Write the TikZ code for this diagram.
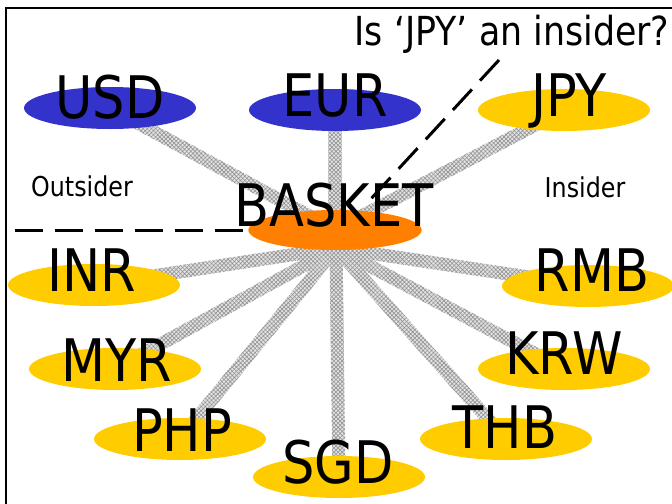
\documentclass[tikz,border=0pt]{standalone}
\usepackage{fontspec}
\setmainfont{DejaVu Sans}[FakeStretch=0.87]
\usetikzlibrary{shapes.geometric,calc,patterns.meta}
\pgfdeclarelayer{background}
\pgfsetlayers{background,main}
\definecolor{cblue}{RGB}{51,51,204}
\definecolor{cyel}{RGB}{255,204,0}
\definecolor{corange}{RGB}{255,128,0}
\tikzset{
  ell/.style={ellipse, inner sep=0pt, minimum width=129pt, minimum height=31.5pt, draw=none},
  blueell/.style={ell, fill=cblue},
  yelell/.style={ell, fill=cyel},
  orell/.style={ell, fill=corange, minimum width=130pt, minimum height=30pt},
  lbl/.style={anchor=base, inner sep=0pt, font=\fontsize{44}{48}\selectfont},
  smalltxt/.style={anchor=base, inner sep=0pt, font=\fontsize{20.5}{24}\selectfont},
  titletxt/.style={anchor=base, inner sep=0pt, font=\fontsize{30}{34}\selectfont},
  dashline/.style={line width=2.25pt, dash pattern=on 21pt off 9pt},
  stripefill/.style={pattern={Hatch[angle=45,distance=2.2pt,line width=0.45pt]}, pattern color=gray!85, preaction={fill=gray!22}},
  framestyle/.style={line width=1.6pt},
}
\newcommand\stripe[2]{\path[stripefill] ($(#1)!4.9pt!90:(#2)$) -- ($(#2)!4.9pt!-90:(#1)$) -- ($(#2)!4.9pt!90:(#1)$) -- ($(#1)!4.9pt!-90:(#2)$) -- cycle;}
\begin{document}
\begin{tikzpicture}[x=0.75pt,y=-0.75pt]
\useasboundingbox (0,0) rectangle (672,504);
% frame
\coordinate (fa) at (6,506);
\coordinate (fb) at (6,8);
\coordinate (fc) at (674,8);
\draw[framestyle] (fa) -- (fb) -- (fc);
% ellipses
\node[blueell] (usd) at (110,108) {};
\node[blueell] (eur) at (335,110) {};
\node[yelell]  (jpy) at (564,110) {};
\node[orell]   (basket) at (335,230) {};
\node[yelell]  (inr) at (94,285) {};
\node[yelell]  (myr) at (115,369) {};
\node[yelell]  (php) at (180,439) {};
\node[yelell]  (sgd) at (339,477) {};
\node[yelell]  (thb) at (506,439) {};
\node[yelell]  (krw) at (564,369) {};
\node[yelell]  (rmb) at (588,286) {};
\coordinate (hubL) at (336,248);
% stripes
\begin{pgfonlayer}{background}
\stripe{basket.center}{usd.center}
\stripe{basket.center}{eur.center}
\stripe{basket.center}{jpy.center}
\stripe{hubL}{inr.center}
\stripe{hubL}{myr.center}
\stripe{hubL}{php.center}
\stripe{hubL}{sgd.center}
\stripe{hubL}{thb.center}
\stripe{hubL}{krw.center}
\stripe{hubL}{rmb.center}
\end{pgfonlayer}
% labels
\node[lbl] (tusd) at (110,118) {USD};
\node[lbl] (teur) at (335,116) {EUR};
\node[lbl] (tjpy) at (569,116) {JPY};
\node[lbl] (tbasket) at (334,226) {BASKET};
\node[lbl] (tinr) at (92,291) {INR};
\node[lbl] (tmyr) at (117,381) {MYR};
\node[lbl] (tphp) at (182,451) {PHP};
\node[lbl] (tsgd) at (338,483) {SGD};
\node[lbl] (tthb) at (505,448) {THB};
\node[lbl] (tkrw) at (564,374) {KRW};
\node[lbl] (trmb) at (592,291) {RMB};
\node[titletxt] (question) at (512,45) {Is ‘JPY’ an insider?};
\node[smalltxt] (outsider) at (82,196) {Outsider};
\node[smalltxt] (insider) at (585,197) {Insider};
% dashed lines
\coordinate (h1) at (15,230);
\coordinate (h2) at (250,230);
\coordinate (d1) at (499,60);
\coordinate (d2) at (368,202);
\draw[dashline] (h1) -- (h2);
\draw[dashline] (d1) -- (d2);
\end{tikzpicture}
\end{document}
